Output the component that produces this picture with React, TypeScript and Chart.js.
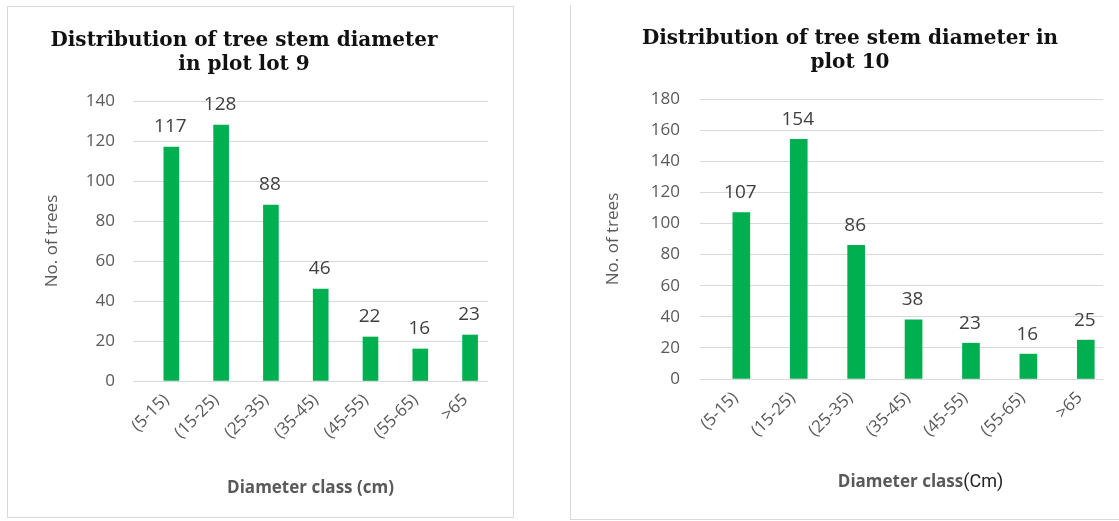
import React, { useEffect, useRef } from "react";
import { Chart, registerables } from "chart.js";

Chart.register(...registerables);

// ---------- data ----------
const categories = ["(5-15)", "(15-25)", "(25-35)", "(35-45)", "(45-55)", "(55-65)", ">65"];
const plot9Values = [117, 128, 88, 46, 22, 16, 23];
const plot10Values = [107, 154, 86, 38, 23, 16, 25];
const plot9Title = ["Distribution of tree stem diameter", "in plot lot 9"];
const plot10Title = ["Distribution of tree stem diameter in", "plot 10"];
const plot9YMax = 140;
const plot10YMax = 180;
const yStep = 20;
const yAxisTitle = "No. of trees";
const plot9XTitleParts = ["Diameter class (cm)"];
const plot10XTitleParts = ["Diameter class", "(Cm)"];

// ---------- styles ----------
const SANS = "'Open Sans', sans-serif";
const SERIF = "'DejaVu Serif', serif";
const GREEN = "#00b050";
const GRID = "#d9d9d9";
const TEXT = "#595959";
const LABEL = "#404040";

const valueLabelPlugin = {
  id: "valueLabels",
  afterDatasetsDraw(chart: any, _a: any, opts: any) {
    const ctx = chart.ctx;
    ctx.save();
    ctx.font = `19px ${SANS}`;
    ctx.fillStyle = LABEL;
    ctx.textAlign = "center";
    ctx.textBaseline = "middle";
    chart.data.datasets.forEach((ds: any, di: number) => {
      const meta = chart.getDatasetMeta(di);
      meta.data.forEach((el: any, i: number) => {
        const v = ds.data[i].y;
        ctx.fillText(String(v), el.x - 1, el.y - (opts.gap || 20));
      });
    });
    ctx.restore();
  },
};

const xTitlePlugin = {
  id: "xTitleParts",
  afterDraw(chart: any, _a: any, opts: any) {
    const parts = opts.parts as { text: string; font: string; color: string }[];
    if (!parts) return;
    const ctx = chart.ctx;
    const area = chart.chartArea;
    ctx.save();
    ctx.textBaseline = "middle";
    ctx.textAlign = "left";
    const widths = parts.map((p) => {
      ctx.font = p.font;
      return ctx.measureText(p.text).width;
    });
    const total = widths.reduce((a, b) => a + b, 0);
    let x = (area.left + area.right) / 2 + (opts.dx || 0) - total / 2;
    const y = area.bottom + (opts.dy || 0);
    parts.forEach((p, i) => {
      ctx.font = p.font;
      ctx.fillStyle = p.color;
      ctx.fillText(p.text, x, y);
      x += widths[i];
    });
    ctx.restore();
  },
};

type Cfg = {
  values: number[];
  title: string[];
  yMax: number;
  xMin: number;
  xMax: number;
  padLeft: number;
  padRight: number;
  yWidth: number;
  xHeight: number;
  titlePadTop: number;
  titlePadBottom: number;
  yTitlePad: number;
  tickPad: number;
  labelOffset: number;
  barThickness: number;
  xParts: { text: string; font: string; color: string }[];
  xdx: number;
  xdy: number;
};

function BarPanel({ cfg, width, height }: { cfg: Cfg; width: number; height: number }) {
  const ref = useRef<HTMLCanvasElement>(null);
  useEffect(() => {
    if (!ref.current) return;
    const chart = new Chart(ref.current, {
      type: "bar",
      data: {
        datasets: [
          {
            data: cfg.values.map((v, i) => ({ x: i, y: v })),
            backgroundColor: GREEN,
            borderWidth: 0,
            barThickness: cfg.barThickness,
          },
        ],
      },
      options: {
        responsive: false,
        animation: false,
        layout: { padding: { left: cfg.padLeft, right: cfg.padRight, top: 0, bottom: 0 } },
        plugins: {
          legend: { display: false },
          tooltip: { enabled: false },
          title: {
            display: true,
            text: cfg.title,
            color: "#111111",
            font: { family: SERIF, size: 20, weight: "bold", lineHeight: 24 / 20 },
            padding: { top: cfg.titlePadTop, bottom: cfg.titlePadBottom },
          },
          valueLabels: { gap: 20 },
          xTitleParts: { parts: cfg.xParts, dx: cfg.xdx, dy: cfg.xdy },
        } as any,
        scales: {
          x: {
            type: "linear",
            offset: false,
            min: cfg.xMin,
            max: cfg.xMax,
            grid: { display: false, drawTicks: false, offset: false },
            border: { display: false },
            afterBuildTicks: (scale: any) => {
              scale.ticks = categories.map((_, i) => ({ value: i }));
            },
            afterFit: (scale: any) => {
              scale.height = cfg.xHeight;
            },
            ticks: {
              autoSkip: false,
              minRotation: 45,
              maxRotation: 45,
              padding: 9,
              labelOffset: cfg.labelOffset,
              color: TEXT,
              font: { family: SANS, size: 17 },
              callback: (v: any) => categories[v as number] ?? "",
            },
          },
          y: {
            min: 0,
            max: cfg.yMax,
            grid: { color: GRID, lineWidth: 1, drawTicks: false },
            border: { display: false },
            afterFit: (scale: any) => {
              scale.width = cfg.yWidth;
            },
            ticks: {
              stepSize: yStep,
              padding: cfg.tickPad,
              color: TEXT,
              font: { family: SANS, size: 17 },
            },
            title: {
              display: true,
              text: yAxisTitle,
              color: TEXT,
              font: { family: SANS, size: 17, lineHeight: 1.2 },
              padding: { top: cfg.yTitlePad, bottom: 0 },
            },
          },
        },
      },
      plugins: [valueLabelPlugin, xTitlePlugin],
    });
    return () => chart.destroy();
  }, [cfg]);
  return <canvas ref={ref} width={width} height={height} style={{ display: "block" }} />;
}

const leftCfg: Cfg = {
  values: plot9Values,
  title: plot9Title,
  yMax: plot9YMax,
  xMin: -0.77,
  xMax: 6.36,
  padLeft: 0,
  padRight: 32,
  yWidth: 133,
  xHeight: 140,
  titlePadTop: 29,
  titlePadBottom: 24,
  yTitlePad: 42,
  tickPad: 18,
  labelOffset: -5,
  barThickness: 15,
  xParts: [{ text: plot9XTitleParts[0], font: `bold 17px ${SANS}`, color: TEXT }],
  xdx: 0,
  xdy: 107,
};

const rightCfg: Cfg = {
  values: plot10Values,
  title: plot10Title,
  yMax: plot10YMax,
  xMin: -0.72,
  xMax: 6.3,
  padLeft: 37,
  padRight: 16,
  yWidth: 103,
  xHeight: 142,
  titlePadTop: 27,
  titlePadBottom: 24,
  yTitlePad: 6,
  tickPad: 20,
  labelOffset: -6,
  barThickness: 17,
  xParts: [
    { text: plot10XTitleParts[0], font: `bold 17px ${SANS}`, color: TEXT },
    { text: plot10XTitleParts[1], font: `18px Roboto, sans-serif`, color: "#222222" },
  ],
  xdx: 19,
  xdy: 103,
};

export default function App() {
  return (
    <div style={{ position: "fixed", left: 0, top: 0, width: 1119, height: 521, background: "#fff", overflow: "hidden" }}>
      <div style={{ position: "absolute", left: 7, top: 6, width: 505, height: 510, border: "1px solid #d9d9d9" }} />
      <div style={{ position: "absolute", left: 570, top: 5, width: 560, height: 514, borderLeft: "1px solid #d9d9d9", borderBottom: "1px solid #d9d9d9" }} />
      <div style={{ position: "absolute", left: 0, top: 0 }}>
        <BarPanel cfg={leftCfg} width={520} height={521} />
      </div>
      <div style={{ position: "absolute", left: 560, top: 0 }}>
        <BarPanel cfg={rightCfg} width={559} height={521} />
      </div>
    </div>
  );
}
